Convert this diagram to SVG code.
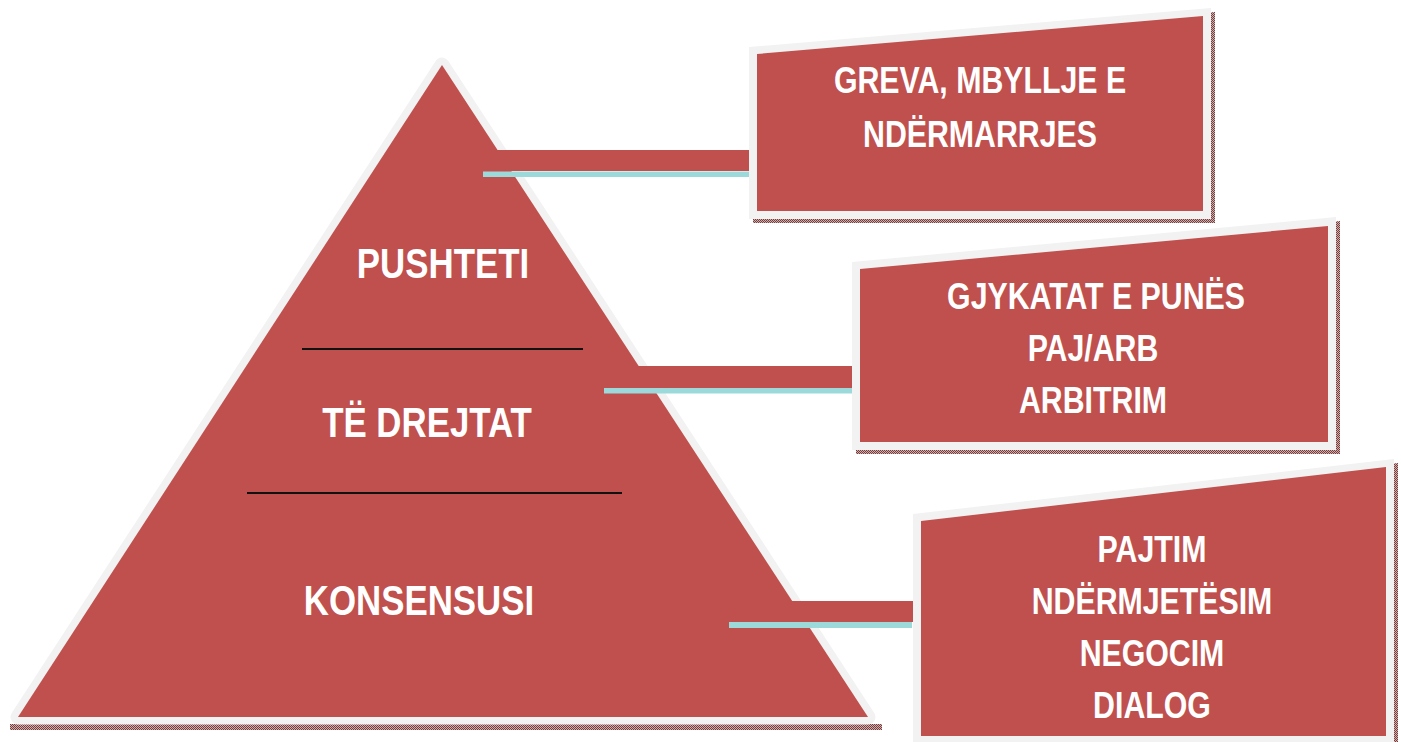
<svg xmlns="http://www.w3.org/2000/svg" width="1401" height="742" viewBox="0 0 1401 742">
<style>
.frame{fill:#f2f2f2}
.red{fill:#c0504d}
.shadow{fill:url(#dots)}
.bar{fill:#c0504d}
.cyan{fill:#9cd9da}
.div{stroke:#111;stroke-width:2.2}
.t{font-family:"Liberation Sans",Arial,sans-serif;font-weight:bold;fill:#ffffff;text-anchor:middle}
.big{font-size:42px}
.sm{font-size:36.5px}
</style>
<defs>
<pattern id="dots" width="2" height="2" patternUnits="userSpaceOnUse">
<rect width="2" height="2" fill="#cdb0b0"/>
<rect width="1" height="1" fill="#7a3b3b"/>
<rect x="1" y="1" width="1" height="1" fill="#7a3b3b"/>
</pattern>
</defs>
<rect width="1401" height="742" fill="#ffffff"/>

<g id="pyramid">
<rect class="shadow" x="10" y="724" width="872" height="6"/>
<polygon points="442,65 18,717 868,717" fill="#f2f2f2" stroke="#f2f2f2" stroke-width="15" stroke-linejoin="round"/>
<polygon class="red" points="442,65 18,717 868,717"/>
<line class="div" x1="302" y1="349" x2="583" y2="349"/>
<line class="div" x1="247" y1="493" x2="622" y2="493"/>
<text class="t big" transform="translate(443,278) scale(0.83,1)">PUSHTETI</text>
<text class="t big" transform="translate(427,437) scale(0.83,1)">TË DREJTAT</text>
<text class="t big" transform="translate(419,615) scale(0.83,1)">KONSENSUSI</text>
</g>

<g id="connectors">
<rect class="bar" x="483" y="150" width="270" height="21"/>
<rect class="cyan" x="483" y="171.5" width="266" height="5.5"/>
<rect class="bar" x="604" y="366" width="252" height="22"/>
<rect class="cyan" x="604" y="388" width="248" height="5.5"/>
<rect class="bar" x="729" y="601" width="188" height="21"/>
<rect class="cyan" x="729" y="622" width="183" height="6"/>
</g>

<g id="box1">
<polygon class="shadow" points="753,51 1215,12 1215,223 753,223"/>
<polygon class="frame" points="749,47 1211,8 1211,219 749,219"/>
<polygon class="red" points="757,54 1203,16 1203,211 757,211"/>
<text class="t sm" transform="translate(980,93) scale(0.83,1)">GREVA, MBYLLJE E</text>
<text class="t sm" transform="translate(980,147) scale(0.83,1)">NDËRMARRJES</text>
</g>

<g id="box2">
<polygon class="shadow" points="856,266 1340,221 1340,454 856,454"/>
<polygon class="frame" points="852,262 1336,217 1336,450 852,450"/>
<polygon class="red" points="860,269 1328,226 1328,442 860,442"/>
<text class="t sm" transform="translate(1096,309) scale(0.83,1)">GJYKATAT E PUNËS</text>
<text class="t sm" transform="translate(1093,361) scale(0.83,1)">PAJ/ARB</text>
<text class="t sm" transform="translate(1093,413) scale(0.83,1)">ARBITRIM</text>
</g>

<g id="box3">
<polygon class="shadow" points="917,518 1398,463 1398,748 917,748"/>
<polygon class="frame" points="913,514 1394,459 1394,744 913,744"/>
<polygon class="red" points="921,521 1386,467 1386,736 921,736"/>
<text class="t sm" transform="translate(1152,562) scale(0.83,1)">PAJTIM</text>
<text class="t sm" transform="translate(1152,614) scale(0.83,1)">NDËRMJETËSIM</text>
<text class="t sm" transform="translate(1152,666) scale(0.83,1)">NEGOCIM</text>
<text class="t sm" transform="translate(1152,718) scale(0.83,1)">DIALOG</text>
</g>
</svg>
